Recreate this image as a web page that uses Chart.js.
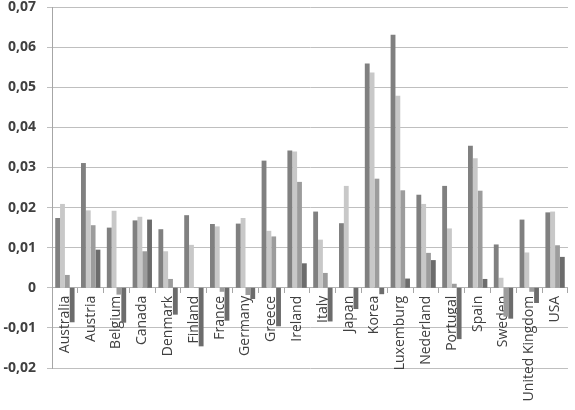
<!DOCTYPE html>
<html>
<head>
<meta charset="utf-8">
<script src="https://cdn.jsdelivr.net/npm/chart.js@4"></script>
<style>
  html, body { margin: 0; padding: 0; background: #ffffff; }
  #wrap { width: 575px; height: 410px; position: relative; }
</style>
</head>
<body>
<div id="wrap"><canvas id="c" width="575" height="410"></canvas></div>
<script>
const labels = ["Australia","Austria","Belgium","Canada","Denmark","Finland","France","Germany","Greece","Ireland","Italy","Japan","Korea","Luxemburg","Nederland","Portugal","Spain","Sweden","United Kingdom","USA"];
const series1 = [0.0174,0.0311,0.0150,0.0168,0.0146,0.0181,0.0159,0.0160,0.0317,0.0342,0.0190,0.0161,0.0559,0.0631,0.0232,0.0254,0.0354,0.0108,0.0170,0.0188];
const series2 = [0.0209,0.0193,0.0192,0.0177,0.0091,0.0107,0.0153,0.0174,0.0142,0.0340,0.0120,0.0254,0.0537,0.0479,0.0209,0.0148,0.0323,0.0025,0.0088,0.0190];
const series3 = [0.0032,0.0156,-0.0017,0.0091,0.0022,0,-0.0010,-0.0018,0.0128,0.0264,0.0037,0,0.0272,0.0243,0.0087,0.0010,0.0242,-0.0072,-0.0010,0.0106];
const series4 = [-0.0086,0.0095,-0.0087,0.0170,-0.0067,-0.0146,-0.0082,-0.0028,-0.0096,0.0061,-0.0084,-0.0053,-0.0016,0.0023,0.0069,-0.0128,0.0022,-0.0077,-0.0038,0.0077];
const yMin = -0.02, yMax = 0.07, yStep = 0.01;

new Chart(document.getElementById('c'), {
  type: 'bar',
  data: {
    labels: labels,
    datasets: [
      { data: series1, backgroundColor: '#808080' },
      { data: series2, backgroundColor: '#c8c8c8' },
      { data: series3, backgroundColor: '#9c9c9c' },
      { data: series4, backgroundColor: '#6c6c6c' }
    ]
  },
  options: {
    responsive: false,
    animation: false,
    devicePixelRatio: 1,
    layout: { padding: { left: 0, right: 5, top: 7, bottom: 42 } },
    datasets: { bar: { categoryPercentage: 0.75, barPercentage: 1.0 } },
    plugins: { legend: { display: false }, tooltip: { enabled: false } },
    scales: {
      x: {
        position: { y: 0 },
        grid: { offset: true, drawOnChartArea: false, drawTicks: true, tickLength: 5, color: '#a6a6a6' },
        border: { display: true, color: '#b3b3b3' },
        ticks: {
          autoSkip: false, maxRotation: 90, minRotation: 90, padding: 3,
          color: '#404040', font: { family: 'Open Sans', size: 14 }
        }
      },
      y: {
        min: yMin, max: yMax,
        afterFit: function (s) { s.width = 52; s.paddingTop = 0; s.paddingBottom = 0; },
        grid: { color: '#bfbfbf', tickLength: 5, drawTicks: true },
        border: { display: true, color: '#a6a6a6' },
        ticks: {
          stepSize: yStep, padding: 11, color: '#404040',
          font: { family: 'Open Sans', size: 14, weight: 'bold' },
          callback: function (v) {
            const r = Math.round(v * 100) / 100;
            return String(r).replace('.', ',');
          }
        }
      }
    }
  }
});
</script>
</body>
</html>
